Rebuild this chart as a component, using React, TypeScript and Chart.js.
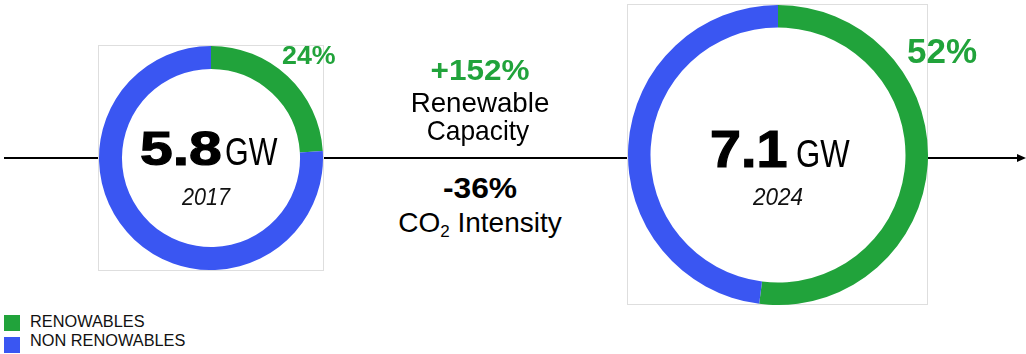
import React, { useEffect, useRef } from "react";
import { Chart, registerables } from "chart.js";

Chart.register(...registerables);

// ---- data ----
const periods = ["2017", "2024"];
const totalCapacityGW = [5.8, 7.1];
const renewableShare = [24, 52];
const nonRenewableShare = [76, 48];
const seriesNames = ["RENOWABLES", "NON RENOWABLES"];
const seriesColors = ["#21a33b", "#3a56f2"];
const changeValues = ["+152%", "-36%"];
const changeColors = ["#21a33b", "#000000"];

type DonutProps = { idx: number; left: number; top: number; size: number; cutout: string };

function Donut({ idx, left, top, size, cutout }: DonutProps) {
  const ref = useRef<HTMLCanvasElement | null>(null);
  useEffect(() => {
    if (!ref.current) return;
    const chart = new Chart(ref.current, {
      type: "doughnut",
      data: {
        labels: seriesNames,
        datasets: [
          {
            data: [renewableShare[idx], nonRenewableShare[idx]],
            backgroundColor: seriesColors,
            borderWidth: 0,
            hoverOffset: 0,
          },
        ],
      },
      options: {
        responsive: false,
        animation: false,
        cutout,
        layout: { padding: 0 },
        plugins: { legend: { display: false }, tooltip: { enabled: false } },
      },
    });
    return () => chart.destroy();
  }, [idx, cutout]);
  return (
    <canvas
      ref={ref}
      width={size}
      height={size}
      style={{ position: "absolute", left, top, width: size, height: size }}
    />
  );
}

type TxtProps = {
  x: number;
  baseline: number;
  size: number;
  bold?: boolean;
  italic?: boolean;
  color?: string;
  scale?: number;
  center?: boolean;
  heavy?: number;
  children: React.ReactNode;
};

function Txt({ x, baseline, size, bold, italic, color = "#000", scale = 1, center, heavy = 0, children }: TxtProps) {
  return (
    <span
      style={{
        position: "absolute",
        left: x,
        top: baseline - 0.8465 * size,
        fontFamily: '"Liberation Sans", Arial, sans-serif',
        fontSize: size,
        lineHeight: `${size}px`,
        fontWeight: bold ? 700 : 400,
        fontStyle: italic ? "italic" : "normal",
        color,
        whiteSpace: "nowrap",
        WebkitTextStroke: heavy ? `${heavy}px ${color}` : undefined,
        transformOrigin: center ? "50% 50%" : "0 50%",
        transform: center ? `translateX(-50%) scaleX(${scale})` : `scaleX(${scale})`,
      }}
    >
      {children}
    </span>
  );
}

export default function App() {
  return (
    <div
      style={{
        position: "absolute",
        left: 0,
        top: 0,
        width: 1026,
        height: 354,
        background: "#fff",
        overflow: "hidden",
      }}
    >
      <svg width={1026} height={354} style={{ position: "absolute", left: 0, top: 0 }}>
        <line x1={4} y1={158} x2={1020} y2={158} stroke="#000" strokeWidth={2} />
        <polygon points="1017,154 1026,158 1017,162" fill="#000" />
      </svg>

      <div
        style={{
          position: "absolute",
          left: 98,
          top: 45,
          width: 226,
          height: 226,
          boxSizing: "border-box",
          border: "1px solid #dedede",
          background: "#fff",
        }}
      />
      <div
        style={{
          position: "absolute",
          left: 627,
          top: 4,
          width: 301,
          height: 301,
          boxSizing: "border-box",
          border: "1px solid #dedede",
          background: "#fff",
        }}
      />

      <Donut idx={0} left={99} top={46} size={224} cutout="79.5%" />
      <Donut idx={1} left={628} top={5} size={300} cutout="85%" />

      {/* left donut labels */}
      <Txt x={140} baseline={165} size={49} bold scale={1.2} heavy={1.2}>
        {totalCapacityGW[0].toFixed(1)}
      </Txt>
      <Txt x={225} baseline={165} size={39} scale={0.78}>
        GW
      </Txt>
      <Txt x={206} baseline={205} size={23} italic center scale={0.94} color="#111">
        {periods[0]}
      </Txt>
      <Txt x={282} baseline={64} size={26} bold color={seriesColors[0]} scale={1.03}>
        {`${renewableShare[0]}%`}
      </Txt>

      {/* right donut labels */}
      <Txt x={710} baseline={167} size={52} bold scale={1.07} heavy={1.2}>
        {totalCapacityGW[1].toFixed(1)}
      </Txt>
      <Txt x={796} baseline={167} size={38} scale={0.82}>
        GW
      </Txt>
      <Txt x={778} baseline={205} size={23} italic center scale={0.98} color="#111">
        {periods[1]}
      </Txt>
      <Txt x={907} baseline={63} size={35} bold color={seriesColors[0]}>
        {`${renewableShare[1]}%`}
      </Txt>

      {/* middle annotations */}
      <Txt x={480} baseline={80} size={30} bold center scale={1.05} color={changeColors[0]}>
        {changeValues[0]}
      </Txt>
      <Txt x={480} baseline={113} size={28} center scale={0.99}>
        Renewable
      </Txt>
      <Txt x={478} baseline={141} size={28} center scale={0.94}>
        Capacity
      </Txt>
      <Txt x={480} baseline={198} size={30} bold center scale={1.06} color={changeColors[1]}>
        {changeValues[1]}
      </Txt>
      <Txt x={480} baseline={233} size={28} center>
        CO
        <span style={{ fontSize: 17, position: "relative", top: 5 }}>2</span> Intensity
      </Txt>

      {/* legend */}
      {seriesNames.map((name, i) => (
        <React.Fragment key={name}>
          <div
            style={{
              position: "absolute",
              left: 4,
              top: 315 + i * 22,
              width: 16,
              height: 16,
              background: seriesColors[i],
            }}
          />
          <Txt x={30} baseline={328 + i * 19} size={16} color="#111" scale={1.02}>
            {name}
          </Txt>
        </React.Fragment>
      ))}
    </div>
  );
}
